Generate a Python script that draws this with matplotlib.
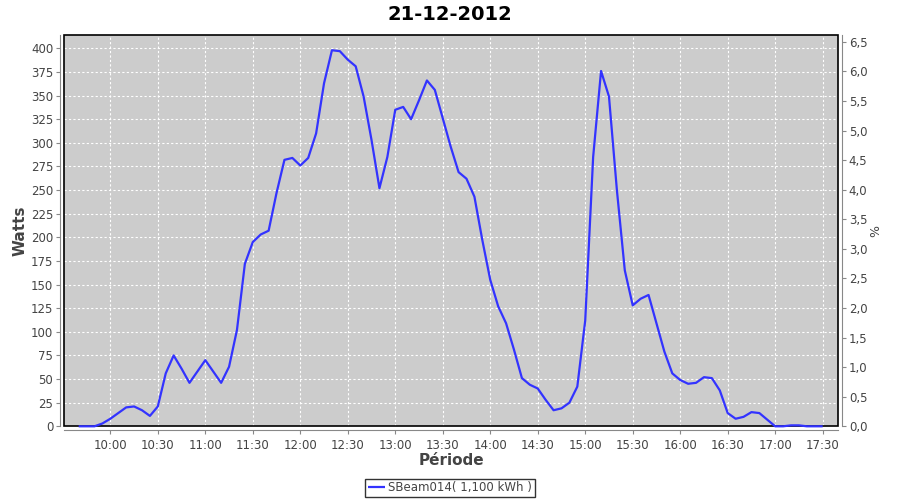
import matplotlib
matplotlib.use("Agg")
import matplotlib.pyplot as plt
from matplotlib.ticker import FixedLocator, FuncFormatter
from matplotlib.patches import Rectangle

# ---- data (5-minute samples, Watts) ----
times = ["09:40", "09:45", "09:50", "09:55", "10:00", "10:05", "10:10", "10:15",
         "10:20", "10:25", "10:30", "10:35", "10:40", "10:45", "10:50", "10:55",
         "11:00", "11:05", "11:10", "11:15", "11:20", "11:25", "11:30", "11:35",
         "11:40", "11:45", "11:50", "11:55", "12:00", "12:05", "12:10", "12:15",
         "12:20", "12:25", "12:30", "12:35", "12:40", "12:45", "12:50", "12:55",
         "13:00", "13:05", "13:10", "13:15", "13:20", "13:25", "13:30", "13:35",
         "13:40", "13:45", "13:50", "13:55", "14:00", "14:05", "14:10", "14:15",
         "14:20", "14:25", "14:30", "14:35", "14:40", "14:45", "14:50", "14:55",
         "15:00", "15:05", "15:10", "15:15", "15:20", "15:25", "15:30", "15:35",
         "15:40", "15:45", "15:50", "15:55", "16:00", "16:05", "16:10", "16:15",
         "16:20", "16:25", "16:30", "16:35", "16:40", "16:45", "16:50", "16:55",
         "17:00", "17:05", "17:10", "17:15", "17:20", "17:25", "17:30"]
watts = [0, 0, 0, 3, 8, 14, 20, 21,
         17, 11, 21, 56, 75, 61, 46, 58,
         70, 58, 46, 63, 102, 172, 195, 203,
         207, 247, 282, 284, 276, 284, 310, 363,
         398, 397, 388, 381, 349, 303, 252, 285,
         335, 338, 325, 345, 366, 356, 326, 296,
         269, 262, 243, 197, 155, 127, 109, 81,
         51, 44, 40, 28, 17, 19, 25, 42,
         112, 285, 376, 349, 250, 165, 128, 135,
         139, 109, 79, 56, 49, 45, 46, 52,
         51, 38, 14, 8, 10, 15, 14, 7,
         0, 0, 1, 1, 0, 0, 0]
x_ticks = ["10:00", "10:30", "11:00", "11:30", "12:00", "12:30", "13:00", "13:30",
           "14:00", "14:30", "15:00", "15:30", "16:00", "16:30", "17:00", "17:30"]
left_ticks = list(range(0, 401, 25))
right_ticks = [0.0, 0.5, 1.0, 1.5, 2.0, 2.5, 3.0, 3.5, 4.0, 4.5, 5.0, 5.5, 6.0, 6.5]
title = "21-12-2012"
series_label = "SBeam014( 1,100 kWh )"


def to_min(s):
    h, m = s.split(":")
    return int(h) * 60 + int(m)


x = [to_min(t) for t in times]
xt = [to_min(t) for t in x_ticks]

plt.rcParams['font.family'] = ['DejaVu Sans']
fig = plt.figure(figsize=(9, 5), dpi=100)
ax = fig.add_axes([0.0714, 0.1474, 0.8594, 0.782])
ax.set_facecolor("#cccccc")

line, = ax.plot(x, watts, color="#3333ff", lw=1.6, solid_joinstyle="round",
                solid_capstyle="butt", zorder=6, clip_on=False)

ax.set_xlim(to_min("09:30") + 0.9, to_min("17:39") + 0.5)
ax.set_ylim(0, 413.8)

ax.xaxis.set_major_locator(FixedLocator(xt))
ax.xaxis.set_major_formatter(FuncFormatter(lambda v, p: f"{int(v)//60:02d}:{int(v)%60:02d}"))
ax.yaxis.set_major_locator(FixedLocator(left_ticks))

ax.grid(True, color="white", linestyle=(0, (2, 2)), linewidth=0.8)
ax.set_axisbelow(True)

axis_gray = "#888888"
label_color = "#444444"
for side in ["top", "right"]:
    ax.spines[side].set_visible(False)
for side in ["left", "bottom"]:
    ax.spines[side].set_position(("outward", 3))
    ax.spines[side].set_color(axis_gray)
ax.tick_params(axis="both", colors=axis_gray, labelcolor=label_color, length=3,
               width=0.8, labelsize=8.5)
ax.tick_params(axis="y", pad=2)
ax.tick_params(axis="x", pad=3)

ax2 = ax.twinx()
ax2.set_ylim(0, 6.61)
ax2.yaxis.set_major_locator(FixedLocator(right_ticks))
ax2.yaxis.set_major_formatter(FuncFormatter(lambda v, p: f"{v:.1f}".replace(".", ",")))
for side in ["top", "left", "bottom"]:
    ax2.spines[side].set_visible(False)
ax2.spines["right"].set_position(("outward", 3))
ax2.spines["right"].set_color(axis_gray)
ax2.tick_params(axis="y", colors=axis_gray, labelcolor=label_color, length=3,
                width=0.8, labelsize=8.5, pad=2)
ax2.set_ylabel("%", rotation=-90, color=label_color, fontsize=9, labelpad=8)

# black plot-area frame
ax.add_patch(Rectangle((0, 0), 1, 1, transform=ax.transAxes, fill=False,
                       edgecolor="black", linewidth=1.2, zorder=5, clip_on=False))

ax.set_ylabel("Watts", fontsize=11, fontweight="bold", color=label_color, labelpad=2)
ax.set_xlabel("Période", fontsize=11, fontweight="bold", color=label_color, labelpad=1)

fig.text(0.5, 0.972, title, ha="center", va="center", fontsize=14, fontweight="bold")

leg = fig.legend([line], [series_label], loc="center", bbox_to_anchor=(0.5, 0.024),
                 frameon=True, fontsize=8.5, fancybox=False, handlelength=1.4,
                 borderpad=0.25, handletextpad=0.3, borderaxespad=0)
leg.get_frame().set_edgecolor("black")
leg.get_frame().set_linewidth(1.0)
for t in leg.get_texts():
    t.set_color(label_color)

fig.savefig("out.png", dpi=100)
